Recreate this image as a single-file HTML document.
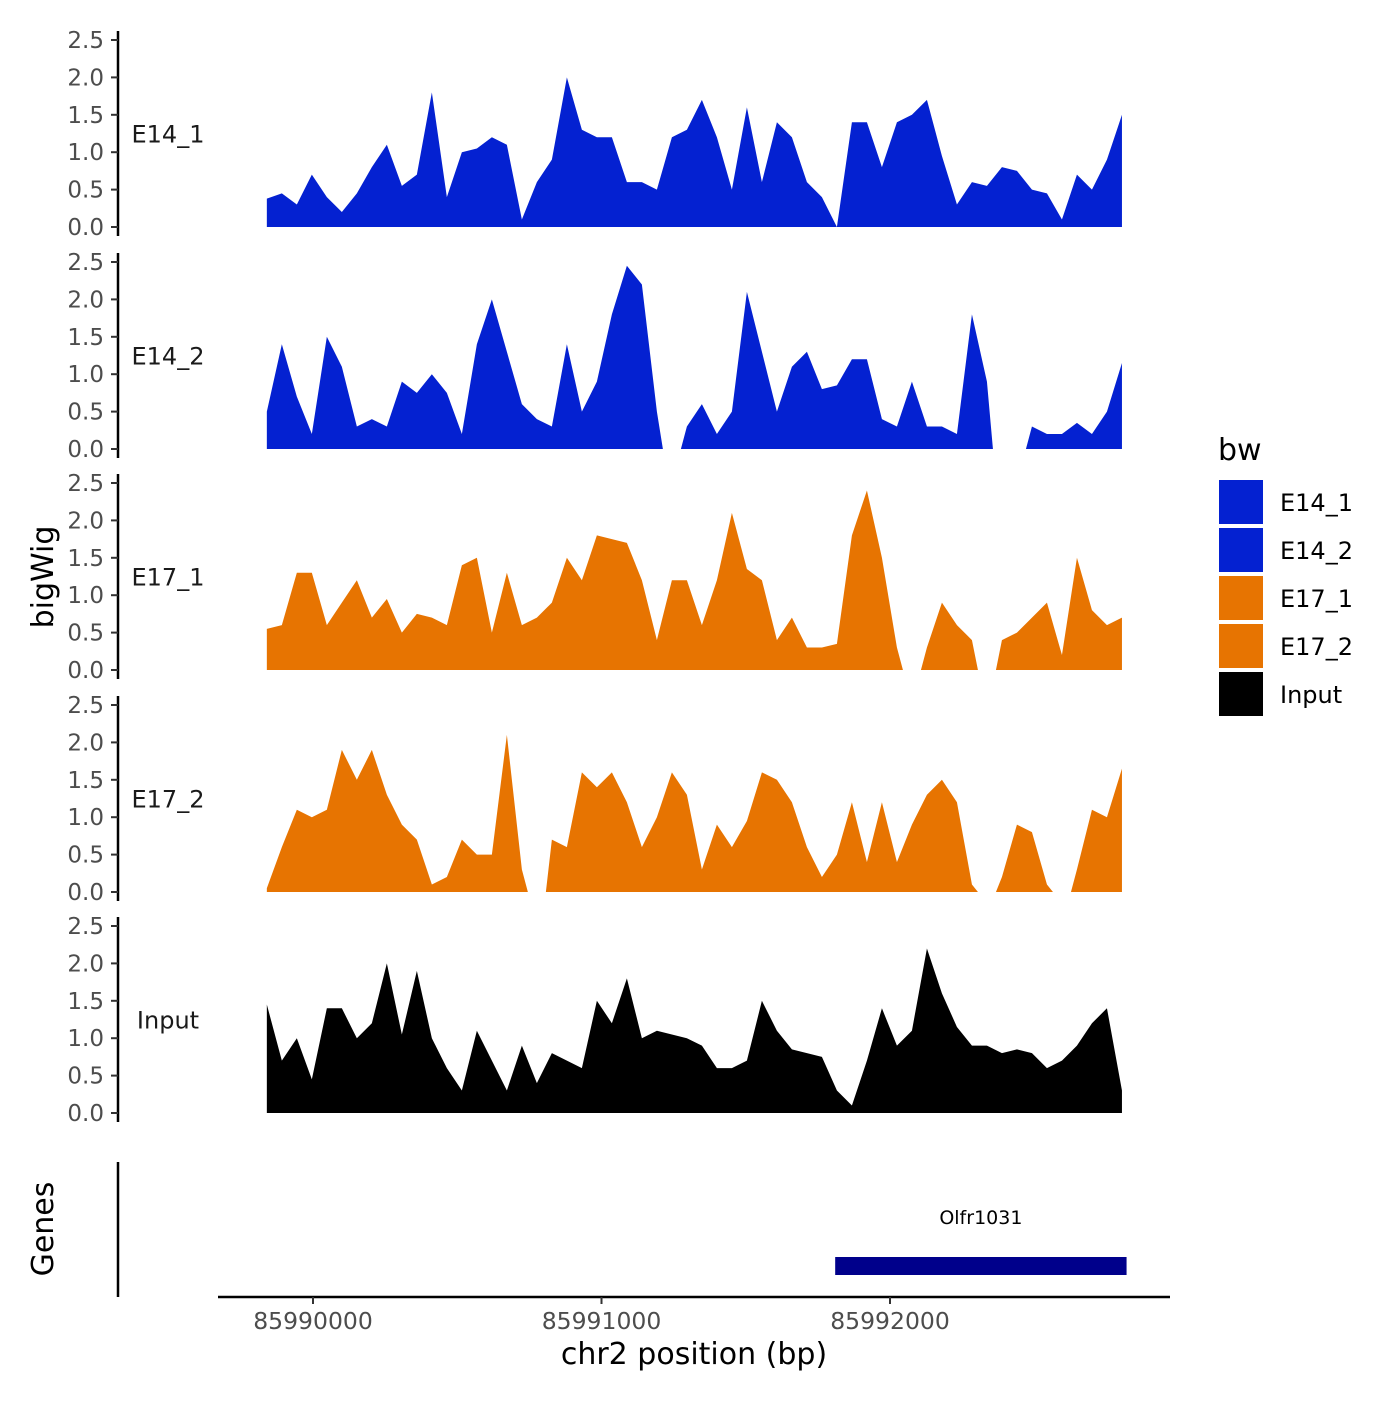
<!DOCTYPE html>
<html><head><meta charset="utf-8"><style>
html,body{margin:0;padding:0;background:#fff}
svg text{font-family:"DejaVu Sans","Liberation Sans",sans-serif}
</style></head><body>
<svg id="chart" width="1400" height="1400" xmlns="http://www.w3.org/2000/svg"></svg>
<script>
const tracks = ["E14_1","E14_2","E17_1","E17_2","Input"];
const trackColors = ["#0421D1","#0421D1","#E77401","#E77401","#000000"];
const startBp = 85989840;
const stepBp = 52;
const yTicks = [0,0.5,1,1.5,2,2.5];
const yTickLabels = ["0.0","0.5","1.0","1.5","2.0","2.5"];
const xTicks = [85990000,85991000,85992000];
const e14_1 = [.38,.45,.3,.7,.4,.2,.45,.8,1.1,.55,.7,1.8,.4,1.0,1.05,1.2,1.1,.1,.6,.9,2.0,1.3,1.2,1.2,.6,.6,.5,1.2,1.3,1.7,1.2,.5,1.6,.6,1.4,1.2,.6,.4,0,1.4,1.4,.8,1.4,1.5,1.7,.95,.3,.6,.55,.8,.75,.5,.45,.1,.7,.5,.9,1.5];
const e14_2 = [.5,1.4,.7,.2,1.5,1.1,.3,.4,.3,.9,.75,1.0,.75,.2,1.4,2.0,1.3,.6,.4,.3,1.4,.5,.9,1.8,2.45,2.2,.5,null,.3,.6,.2,.5,2.1,1.3,.5,1.1,1.3,.8,.85,1.2,1.2,.4,.3,.9,.3,.3,.2,1.8,.9,null,null,.3,.2,.2,.35,.2,.5,1.15];
const e17_1 = [.55,.6,1.3,1.3,.6,.9,1.2,.7,.95,.5,.75,.7,.6,1.4,1.5,.5,1.3,.6,.7,.9,1.5,1.2,1.8,1.75,1.7,1.2,.4,1.2,1.2,.6,1.2,2.1,1.35,1.2,.4,.7,.3,.3,.35,1.8,2.4,1.5,.3,null,.3,.9,.6,.4,null,.4,.5,.7,.9,.2,1.5,.8,.6,.7];
const e17_2 = [.05,.6,1.1,1.0,1.1,1.9,1.5,1.9,1.3,.9,.7,.1,.2,.7,.5,.5,2.1,.3,null,.7,.6,1.6,1.4,1.6,1.2,.6,1.0,1.6,1.3,.3,.9,.6,.95,1.6,1.5,1.2,.6,.2,.5,1.2,.4,1.2,.4,.9,1.3,1.5,1.2,.1,null,.2,.9,.8,.1,null,.3,1.1,1.0,1.65];
const input = [1.45,.7,1.0,.45,1.4,1.4,1.0,1.2,2.0,1.05,1.9,1.0,.6,.3,1.1,.7,.3,.9,.4,.8,.7,.6,1.5,1.2,1.8,1.0,1.1,1.05,1.0,.9,.6,.6,.7,1.5,1.1,.85,.8,.75,.3,.1,.7,1.4,.9,1.1,2.2,1.6,1.15,.9,.9,.8,.85,.8,.6,.7,.9,1.2,1.4,.3];
const series = [e14_1,e14_2,e17_1,e17_2,input];
const geneName = "Olfr1031";
const geneStart = 85991810;
const geneEnd = 85992820;

const svg = document.getElementById('chart');
const NS = "http://www.w3.org/2000/svg";
function mk(tag, attrs, parent){const e=document.createElementNS(NS,tag);for(const k in attrs)e.setAttribute(k,attrs[k]);(parent||svg).appendChild(e);return e;}
const xScale = bp => 313 + (bp - 85990000) * 288.5 / 1000;
const panelBase = [227,449,670,892,1113];
const yScale = (p, v) => panelBase[p] - v * 74.8;

tracks.forEach((name, p) => {
  const g = mk('g', {});
  
  
  const ax = mk('line', {x1:118, x2:118, y1:yScale(p,2.5)-9, y2:panelBase[p]+9, stroke:'#000', 'stroke-width':2.5}, g);
  
  
  yTicks.forEach((t, i) => {
    const y = yScale(p, t);
    const tk = mk('line', {x1:111, x2:118, y1:y, y2:y, stroke:'#333', 'stroke-width':2}, g);
    
    
    const tl = mk('text', {x:104, y:y+8, 'text-anchor':'end', 'font-size':23, fill:'#4d4d4d'}, g);
    tl.textContent = yTickLabels[i];
    
    
  });
  const lab = mk('text', {x:168, y:yScale(p,1.25)+9, 'text-anchor':'middle', 'font-size':24, fill:'#1a1a1a'}, g);
  lab.textContent = name;
  
  
  const vals = series[p];
  let seg = [];
  const flush = (endGap) => {
    if (seg.length > 1) {
      let d = 'M' + seg[0][0] + ',' + panelBase[p];
      seg.forEach(s => d += 'L' + s[0] + ',' + s[1]);
      const lx = seg[seg.length-1][0] + (endGap ? 6 : 0);
      d += 'L' + lx + ',' + panelBase[p] + 'Z';
      const a = mk('path', {d:d, fill:trackColors[p]}, g);
      
      
    }
    seg = [];
  };
  let afterGap = false;
  vals.forEach((v, i) => {
    if (v === null) { flush(true); afterGap = true; return; }
    const x = xScale(startBp + i * stepBp);
    if (afterGap) { seg.push([x - 6, panelBase[p]]); afterGap = false; }
    seg.push([x, yScale(p, v)]);
  });
  flush(false);
});

const yt = mk('text', {x:0, y:0, transform:'translate(53,577) rotate(-90)', 'text-anchor':'middle', 'font-size':30, fill:'#000'});
yt.textContent = 'bigWig';



const ga = mk('line', {x1:118, x2:118, y1:1162, y2:1297, stroke:'#000', 'stroke-width':2.5});


const gt = mk('text', {x:0, y:0, transform:'translate(53,1229) rotate(-90)', 'text-anchor':'middle', 'font-size':30, fill:'#000'});
gt.textContent = 'Genes';


const gb = mk('rect', {x:xScale(geneStart), y:1257, width:xScale(geneEnd)-xScale(geneStart), height:18, fill:'#00008B'});


const gl = mk('text', {x:(xScale(geneStart)+xScale(geneEnd))/2, y:1224, 'text-anchor':'middle', 'font-size':19, fill:'#000'});
gl.textContent = geneName;



const xa = mk('line', {x1:218, x2:1170, y1:1297, y2:1297, stroke:'#000', 'stroke-width':2.5});


xTicks.forEach(t => {
  const x = xScale(t);
  const tk = mk('line', {x1:x, x2:x, y1:1297, y2:1304, stroke:'#333', 'stroke-width':2});
  
  
  const tl = mk('text', {x:x, y:1329, 'text-anchor':'middle', 'font-size':23.5, fill:'#4d4d4d'});
  tl.textContent = String(t);
  
  
});
const xt = mk('text', {x:694, y:1364, 'text-anchor':'middle', 'font-size':30, fill:'#000'});
xt.textContent = 'chr2 position (bp)';



const lt = mk('text', {x:1218, y:460, 'font-size':30, fill:'#000'});
lt.textContent = 'bw';


tracks.forEach((name, i) => {
  const y = 480 + i * 48;
  const r = mk('rect', {x:1219, y:y, width:44, height:44, fill:trackColors[i]});
  
  
  const t = mk('text', {x:1280, y:y+31, 'font-size':24, fill:'#000'});
  t.textContent = name;
  
  
});
</script>
</body></html>
